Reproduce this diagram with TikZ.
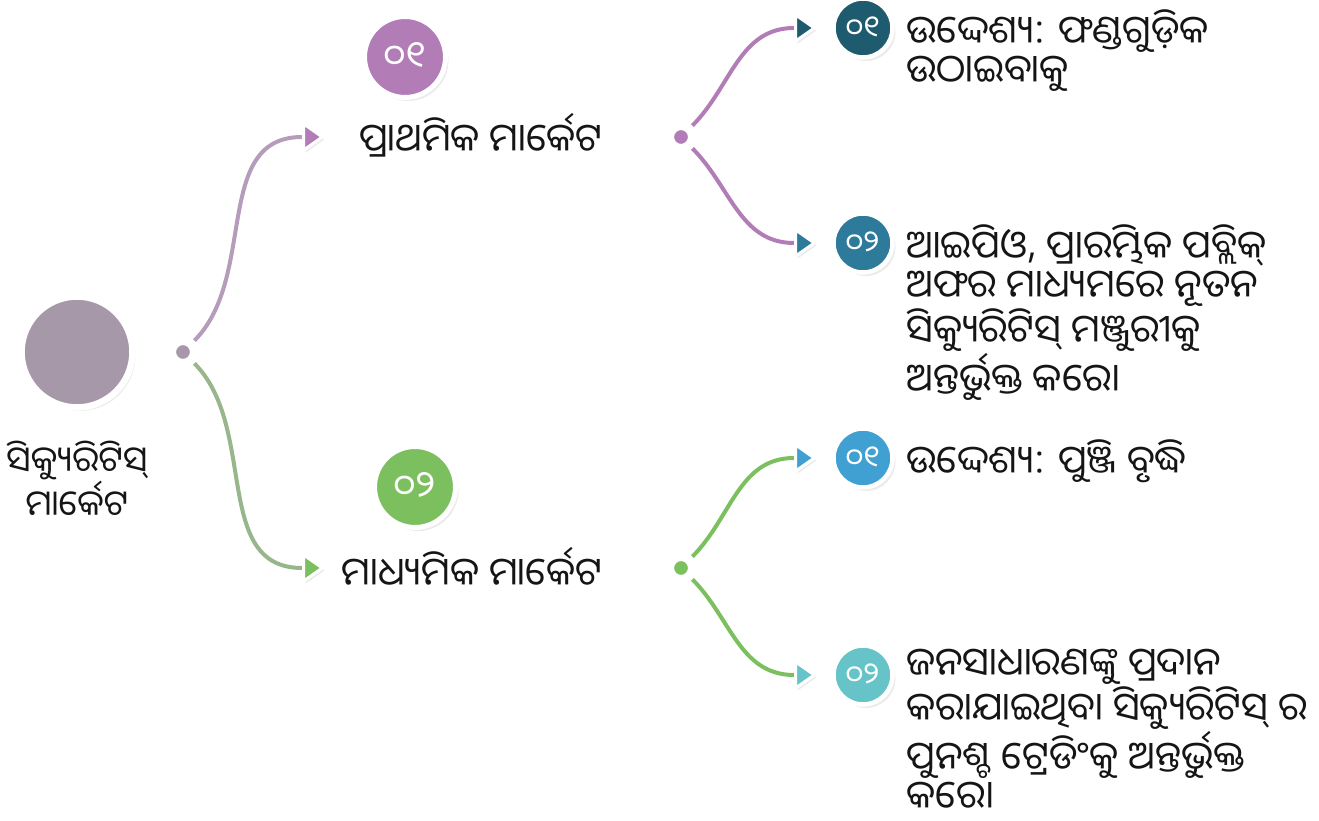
\documentclass[tikz,border=0pt]{standalone}
\usepackage{fontspec}
\newfontfamily\odia[Script=Oriya]{Noto Sans Oriya UI}
\usetikzlibrary{arrows.meta}
\usetikzlibrary{shapes}
\usetikzlibrary{positioning}
\usetikzlibrary{backgrounds}
\usetikzlibrary{shadows}

\definecolor{mauve}{HTML}{A798A9}
\definecolor{plum}{HTML}{B27CB6}
\definecolor{leaf}{HTML}{7CBF5E}
\definecolor{deepteal}{HTML}{1F5B6F}
\definecolor{midteal}{HTML}{2D7A9A}
\definecolor{skyblue}{HTML}{41A0D2}
\definecolor{aqua}{HTML}{66C4C8}
\definecolor{rootline}{HTML}{B49CBA}
\definecolor{sageline}{HTML}{98B68C}
\definecolor{ink}{HTML}{151515}

\begin{document}
\begin{tikzpicture}[x=0.02cm,y=0.02cm]
            \tikzset{every node/.style={text=ink, font=\odia\fontsize{22}{22.5}\selectfont},
                    ring/.style={circle, draw=white, drop shadow={opacity=0.16, shadow xshift=0.06cm, shadow yshift=-0.07cm}},
                    bigdot/.style={ring, line width=0.1cm, minimum size=1.62cm, text=white, font=\odia\fontsize{21}{22}\selectfont},
                    smalldot/.style={ring, line width=0.09cm, minimum size=1.18cm, text=white, font=\odia\fontsize{17}{18}\selectfont},
                    hub/.style={ring, line width=0.18cm, minimum size=0.46cm, inner sep=0pt},
                    pointer/.style={isosceles triangle, isosceles triangle apex angle=70, draw=white, line width=0.06cm, inner sep=0.11cm, drop shadow={opacity=0.16, shadow xshift=0.04cm, shadow yshift=-0.05cm}},
                    info/.style={anchor=north west, align=left, inner sep=0pt},
                    link/.style={line width=0.08cm}}
            \useasboundingbox (0,0) rectangle (1319,821);
            \node[ring, fill=mauve, line width=0.13cm, minimum size=2.22cm] (root) at (77, 469) {};
            \node[align=center, font=\odia\fontsize{20}{21.5}\selectfont] (rootlabel) at (77, 341) {ସିକ୍ୟୁରିଟିସ୍\\ମାର୍କେଟ};
            \node[hub, fill=mauve] (h0) at (183, 469) {};
            \node[pointer, fill=plum] (t1) at (309, 684) {};
            \node[pointer, fill=leaf] (t2) at (309, 253) {};
            \node[bigdot, fill=plum] (n1) at (405, 764) {୦୧};
            \node (p1) at (481, 686) {ପ୍ରାଥମିକ ମାର୍କେଟ};
            \node[bigdot, fill=leaf] (n2) at (415, 334) {୦୨};
            \node (p2) at (472, 253) {ମାଧ୍ୟମିକ ମାର୍କେଟ};
            \node[hub, fill=plum] (h1) at (681, 684) {};
            \node[hub, fill=leaf] (h2) at (681, 253) {};
            \node[pointer, fill=deepteal] (t11) at (801, 793) {};
            \node[pointer, fill=midteal] (t12) at (801, 578) {};
            \node[pointer, fill=skyblue] (t21) at (801, 363) {};
            \node[pointer, fill=aqua] (t22) at (801, 146) {};
            \node[smalldot, fill=deepteal] (l11) at (863, 793) {୦୧};
            \node[smalldot, fill=midteal] (l12) at (863, 578) {୦୨};
            \node[smalldot, fill=skyblue] (l21) at (863, 363) {୦୧};
            \node[smalldot, fill=aqua] (l22) at (863, 146) {୦୨};
            \node[info] (d11) at (906, 812) {ଉଦ୍ଦେଶ୍ୟ: ଫଣ୍ଡଗୁଡ଼ିକ\\ଉଠାଇବାକୁ};
            \node[info] (d12) at (906, 597) {ଆଇପିଓ, ପ୍ରାରମ୍ଭିକ ପବ୍ଲିକ୍\\ଅଫର ମାଧ୍ୟମରେ ନୂତନ\\ସିକ୍ୟୁରିଟିସ୍ ମଞ୍ଜୁରୀକୁ\\ଅନ୍ତର୍ଭୁକ୍ତ କରେ।};
            \node[info] (d21) at (906, 382) {ଉଦ୍ଦେଶ୍ୟ: ପୁଞ୍ଜି ବୃଦ୍ଧି};
            \node[info] (d22) at (906, 172) {ଜନସାଧାରଣଙ୍କୁ ପ୍ରଦାନ\\କରାଯାଇଥିବା ସିକ୍ୟୁରିଟିସ୍ ର\\ପୁନଶ୍ଚ ଟ୍ରେଡିଂକୁ ଅନ୍ତର୍ଭୁକ୍ତ\\କରେ।};
            \begin{scope}[on background layer]
                \path [link] (h0) edge[draw=rootline, out=45, in=180] (t1);
                \path [link] (h0) edge[draw=sageline, out=-45, in=180] (t2);
                \path [link] (h1) edge[draw=plum, out=45, in=180] (t11);
                \path [link] (h1) edge[draw=plum, out=-45, in=180] (t12);
                \path [link] (h2) edge[draw=leaf, out=45, in=180] (t21);
                \path [link] (h2) edge[draw=leaf, out=-45, in=180] (t22);
            \end{scope}
        \end{tikzpicture}
\end{document}
